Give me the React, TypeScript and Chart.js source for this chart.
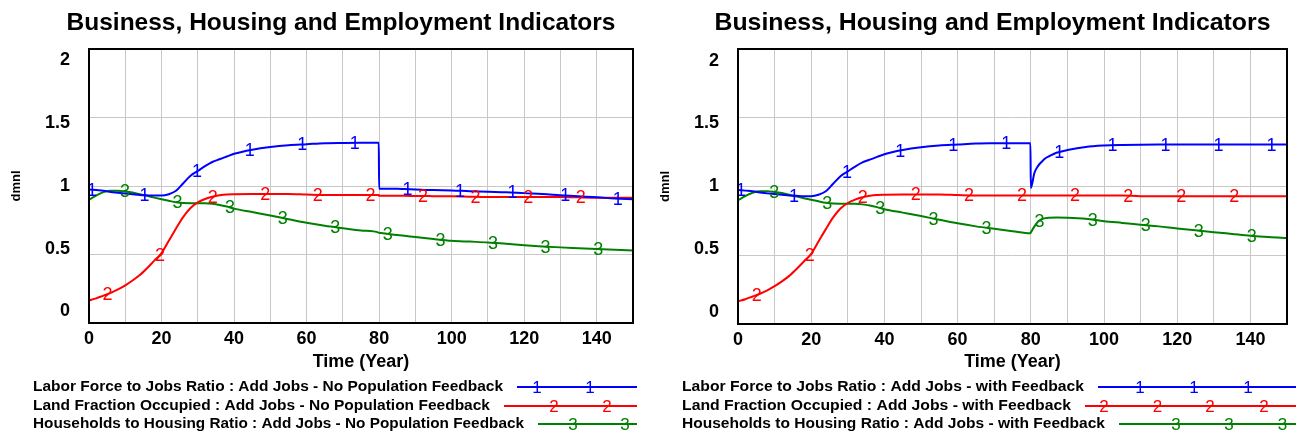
import React, { useEffect, useRef } from "react";
import { Chart, registerables } from "chart.js";

Chart.register(...registerables);

// ---------- data ----------
const TIME = [
  0, 2, 4, 6, 8, 10, 12, 14, 16, 18, 20, 22, 24, 26, 28, 30, 32, 34, 36, 38, 40,
  45, 50, 55, 60, 65, 70, 75, 79.9,
  80, 81, 82, 83, 84, 85, 87,
  90, 95, 100, 105, 110, 115, 120, 125, 130, 135, 140, 145, 150,
];

const laborNoFeedback = [
  0.975, 0.97, 0.965, 0.957, 0.95, 0.945, 0.94, 0.935, 0.932, 0.93, 0.93, 0.94, 0.965, 1.02, 1.075, 1.11, 1.145, 1.175, 1.195, 1.215, 1.235,
  1.265, 1.285, 1.298, 1.305, 1.312, 1.314, 1.315, 1.315,
  0.98, 0.98, 0.98, 0.98, 0.98, 0.98, 0.978,
  0.975, 0.97, 0.968, 0.962, 0.958, 0.955, 0.948, 0.942, 0.933, 0.925, 0.918, 0.908, 0.903,
];
const landNoFeedback = [
  0.165, 0.18, 0.2, 0.22, 0.245, 0.275, 0.31, 0.35, 0.4, 0.455, 0.51, 0.6, 0.69, 0.775, 0.84, 0.88, 0.905, 0.922, 0.932, 0.938, 0.94,
  0.942, 0.942, 0.942, 0.938, 0.935, 0.935, 0.935, 0.935,
  0.928, 0.928, 0.928, 0.928, 0.928, 0.928, 0.928,
  0.927, 0.926, 0.925, 0.922, 0.92, 0.92, 0.92, 0.92, 0.92, 0.917, 0.915, 0.915, 0.915,
];
const householdsNoFeedback = [
  0.9, 0.93, 0.955, 0.965, 0.965, 0.96, 0.952, 0.94, 0.928, 0.915, 0.903, 0.892, 0.882, 0.876, 0.875, 0.875, 0.874, 0.87, 0.862, 0.85, 0.835,
  0.81, 0.785, 0.758, 0.732, 0.71, 0.692, 0.675, 0.66,
  0.658, 0.656, 0.652, 0.648, 0.645, 0.642, 0.636,
  0.628, 0.613, 0.6, 0.594, 0.588, 0.578, 0.568, 0.559, 0.552, 0.546, 0.54, 0.534, 0.529,
];

const laborFeedback = [
  0.975, 0.97, 0.965, 0.957, 0.95, 0.945, 0.94, 0.935, 0.932, 0.93, 0.93, 0.94, 0.965, 1.02, 1.075, 1.11, 1.145, 1.175, 1.195, 1.215, 1.235,
  1.265, 1.285, 1.298, 1.305, 1.312, 1.314, 1.315, 1.315,
  0.99, 1.1, 1.15, 1.18, 1.205, 1.22, 1.245,
  1.265, 1.288, 1.298, 1.302, 1.304, 1.305, 1.305, 1.305, 1.305, 1.305, 1.305, 1.305, 1.305,
];
const landFeedback = [
  0.165, 0.18, 0.2, 0.22, 0.245, 0.275, 0.31, 0.35, 0.4, 0.455, 0.51, 0.6, 0.69, 0.775, 0.84, 0.88, 0.905, 0.922, 0.932, 0.938, 0.94,
  0.942, 0.942, 0.942, 0.938, 0.935, 0.935, 0.935, 0.935,
  0.935, 0.935, 0.935, 0.935, 0.935, 0.935, 0.935,
  0.935, 0.935, 0.935, 0.935, 0.93, 0.93, 0.93, 0.93, 0.93, 0.93, 0.93, 0.93, 0.93,
];
const householdsFeedback = [
  0.9, 0.93, 0.955, 0.965, 0.965, 0.96, 0.952, 0.94, 0.928, 0.915, 0.903, 0.892, 0.882, 0.876, 0.875, 0.875, 0.874, 0.87, 0.862, 0.85, 0.835,
  0.81, 0.785, 0.758, 0.732, 0.71, 0.692, 0.675, 0.66,
  0.665, 0.71, 0.745, 0.762, 0.77, 0.773, 0.775,
  0.773, 0.765, 0.748, 0.735, 0.722, 0.71, 0.695, 0.682, 0.668, 0.655, 0.642, 0.632, 0.625,
];

const X_TICK_LABELS = [0, 20, 40, 60, 80, 100, 120, 140];
const Y_TICK_VALUES = [0, 0.5, 1, 1.5, 2];
const Y_TICK_LABELS = ["0", "0.5", "1", "1.5", "2"];

const SERIES_NAMES = ["Labor Force to Jobs Ratio", "Land Fraction Occupied", "Households to Housing Ratio"];
const SERIES_MARKS = ["1", "2", "3"];
const RUN_NO_FEEDBACK = "Add Jobs - No Population Feedback";
const RUN_FEEDBACK = "Add Jobs - with Feedback";
const TITLE = "Business, Housing and Employment Indicators";
const X_TITLE = "Time (Year)";
const Y_TITLE = "dmnl";

// ---------- styles / layout ----------
const COLORS = ["#0000ff", "#ff0000", "#008000"];
const FONT = '"Liberation Sans", Arial, Helvetica, sans-serif';
const MARK_START = [0.8, 5.1, 9.9];
const MARK_STEP = 14.5;

type Layout = {
  left: number;
  W: number;
  H: number;
  plotLeft: number;
  plotRight: number;
  plotTop: number;
  plotBottom: number;
  legendEnd: number;
  legendWidths: number[];
  legendMarks: number[][];
  titleWidth: number;
};

const LEFT_LAYOUT: Layout = {
  left: 0,
  W: 648,
  H: 436,
  plotLeft: 89,
  plotRight: 633,
  plotTop: 49,
  plotBottom: 323,
  legendEnd: 637,
  legendWidths: [470, 457, 491],
  legendMarks: [[-100, -47], [-83, -30], [-64, -12]],
  titleWidth: 549,
};
const RIGHT_LAYOUT: Layout = {
  left: 648,
  W: 649,
  H: 436,
  plotLeft: 90,
  plotRight: 639,
  plotTop: 49,
  plotBottom: 324,
  legendEnd: 648,
  legendWidths: [402, 389, 423],
  legendMarks: [[-156, -102, -48], [-192, -138.5, -86, -32], [-120, -67, -13.5]],
  titleWidth: 556,
};

function interp(ts: number[], vs: number[], t: number) {
  if (t <= ts[0]) return vs[0];
  for (let i = 1; i < ts.length; i++) {
    if (t <= ts[i]) {
      const f = (t - ts[i - 1]) / (ts[i] - ts[i - 1]);
      return vs[i - 1] + f * (vs[i] - vs[i - 1]);
    }
  }
  return vs[vs.length - 1];
}

function drawFitted(ctx: CanvasRenderingContext2D, text: string, x: number, y: number, width: number | null, align: "left" | "center" | "right") {
  const w = ctx.measureText(text).width;
  const sx = width ? width / w : 1;
  ctx.save();
  ctx.translate(x, y);
  ctx.scale(sx, 1);
  ctx.textAlign = "left";
  let dx = 0;
  if (align === "center") dx = -w / 2;
  else if (align === "right") dx = -w;
  ctx.fillText(text, dx, 0);
  ctx.restore();
  return w * sx;
}

function IndicatorChart({ series, runName, layout }: { series: number[][]; runName: string; layout: Layout }) {
  const ref = useRef<HTMLCanvasElement | null>(null);

  useEffect(() => {
    if (!ref.current) return;
    const L = layout;

    const decor = {
      id: "vensimDecor",
      afterDatasetsDraw(chart: any) {
        const { ctx, chartArea: a, scales } = chart;
        const xs = scales.x;
        const ys = scales.y;
        // markers on the lines
        ctx.save();
        ctx.font = `18px ${FONT}`;
        ctx.textAlign = "center";
        ctx.textBaseline = "middle";
        series.forEach((vals, si) => {
          ctx.fillStyle = COLORS[si];
          for (let t = MARK_START[si]; t <= 150; t += MARK_STEP) {
            const v = interp(TIME, vals, t);
            ctx.fillText(SERIES_MARKS[si], xs.getPixelForValue(t), ys.getPixelForValue(v) + 1);
          }
        });
        ctx.restore();
        // frame
        ctx.save();
        ctx.strokeStyle = "#000";
        ctx.lineWidth = 2;
        ctx.strokeRect(a.left, a.top, a.right - a.left, a.bottom - a.top);
        ctx.restore();
      },
      afterDraw(chart: any) {
        const { ctx, chartArea: a, scales } = chart;
        const ys = scales.y;
        ctx.save();
        ctx.fillStyle = "#000";
        ctx.textBaseline = "middle";
        // title
        ctx.font = `bold 24px ${FONT}`;
        drawFitted(ctx, TITLE, (a.left + a.right) / 2 - 20, 23, L.titleWidth, "center");
        // y tick labels (Vensim compresses them toward the centre)
        ctx.font = `bold 18px ${FONT}`;
        const mid = ys.getPixelForValue(1);
        Y_TICK_VALUES.forEach((v, i) => {
          const gy = ys.getPixelForValue(v);
          const ly = mid + (gy - mid) * 0.916;
          drawFitted(ctx, Y_TICK_LABELS[i], a.left - 19, ly, null, "right");
        });
        // x title
        ctx.font = `bold 18px ${FONT}`;
        drawFitted(ctx, X_TITLE, (a.left + a.right) / 2, 362, null, "center");
        // y title
        ctx.save();
        ctx.translate(a.left - 73, (a.top + a.bottom) / 2);
        ctx.rotate(-Math.PI / 2);
        ctx.font = `bold 13px ${FONT}`;
        ctx.textAlign = "center";
        ctx.fillText(Y_TITLE, 0, 0);
        ctx.restore();
        // legend
        const rowsY = [387, 406, 424];
        series.forEach((_, si) => {
          const y = rowsY[si];
          ctx.font = `bold 15px ${FONT}`;
          ctx.fillStyle = "#000";
          const label = `${SERIES_NAMES[si]} : ${runName}`;
          const tw = drawFitted(ctx, label, a.left - 56, y, L.legendWidths[si], "left");
          const x0 = a.left - 56 + tw + 14;
          ctx.strokeStyle = COLORS[si];
          ctx.lineWidth = 2;
          ctx.beginPath();
          ctx.moveTo(x0, y);
          ctx.lineTo(L.legendEnd, y);
          ctx.stroke();
          ctx.fillStyle = COLORS[si];
          ctx.font = `17px ${FONT}`;
          ctx.textAlign = "center";
          L.legendMarks[si].forEach((dx) => ctx.fillText(SERIES_MARKS[si], L.legendEnd + dx, y + 1));
          ctx.textAlign = "left";
        });
        ctx.restore();
      },
    };

    const chart = new Chart(ref.current, {
      type: "line",
      data: {
        datasets: series.map((vals, si) => ({
          label: `${SERIES_NAMES[si]} : ${runName}`,
          data: TIME.map((t, i) => ({ x: t, y: vals[i] })),
          borderColor: COLORS[si],
          backgroundColor: COLORS[si],
          borderWidth: 2,
          pointRadius: 0,
          fill: false,
          cubicInterpolationMode: "monotone" as const,
        })),
      },
      options: {
        responsive: false,
        animation: false,
        devicePixelRatio: 1,
        layout: {
          padding: { left: 0, top: L.plotTop, right: L.W - L.plotRight, bottom: 0 },
        },
        plugins: {
          legend: { display: false },
          title: { display: false },
          tooltip: { enabled: false },
        },
        scales: {
          x: {
            type: "linear",
            min: 0,
            max: 150,
            border: { display: false },
            grid: { color: "#c8c8c8", lineWidth: 1, drawTicks: false },
            ticks: {
              stepSize: 10,
              autoSkip: false,
              maxRotation: 0,
              padding: 5,
              color: "#000",
              font: { family: FONT, size: 18, weight: "bold" },
              callback: (v: any) => (X_TICK_LABELS.includes(Number(v)) ? String(v) : ""),
            },
            afterFit: (s: any) => {
              s.height = L.H - L.plotBottom;
            },
          },
          y: {
            type: "linear",
            min: 0,
            max: 2,
            border: { display: false },
            grid: { color: "#c8c8c8", lineWidth: 1, drawTicks: false },
            ticks: { display: false, stepSize: 0.5 },
            afterFit: (s: any) => {
              s.width = L.plotLeft;
            },
          },
        },
      },
      plugins: [decor],
    } as any);

    return () => chart.destroy();
  }, [series, runName, layout]);

  return (
    <canvas
      ref={ref}
      width={layout.W}
      height={layout.H}
      style={{ position: "absolute", left: layout.left, top: 0, width: layout.W, height: layout.H }}
    />
  );
}

const NO_FB_SERIES = [laborNoFeedback, landNoFeedback, householdsNoFeedback];
const FB_SERIES = [laborFeedback, landFeedback, householdsFeedback];

export default function App() {
  return (
    <div style={{ position: "absolute", left: 0, top: 0, width: 1297, height: 436, background: "#fff", overflow: "hidden" }}>
      <IndicatorChart series={NO_FB_SERIES} runName={RUN_NO_FEEDBACK} layout={LEFT_LAYOUT} />
      <IndicatorChart series={FB_SERIES} runName={RUN_FEEDBACK} layout={RIGHT_LAYOUT} />
    </div>
  );
}
